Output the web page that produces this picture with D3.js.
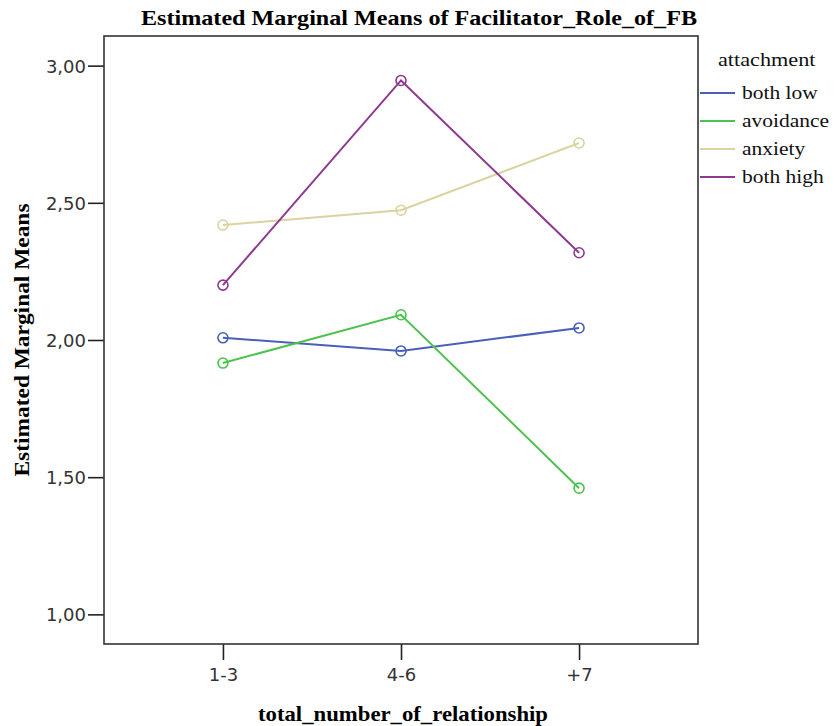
<!DOCTYPE html>
<html>
<head>
<meta charset="utf-8">
<script src="https://cdn.jsdelivr.net/npm/d3@7"></script>
<style>
  body { margin: 0; background: #fff; }
  svg { display: block; }
</style>
</head>
<body>
<div id="chart"></div>
<script>
// categories on the x axis
var categories = ['1-3', '4-6', '+7'];

// one series per attachment group
var seriesNames = ['both low', 'avoidance', 'anxiety', 'both high'];
var bothLow = [2.008, 1.960, 2.044];
var avoidance = [1.916, 2.092, 1.460];
var anxiety = [2.419, 2.473, 2.718];
var bothHigh = [2.200, 2.946, 2.318];

var yTicks = [1.00, 1.50, 2.00, 2.50, 3.00];
var colors = ['#4a5fb8', '#4cc24f', '#d9d4a0', '#8e3b8f'];

var series = [bothLow, avoidance, anxiety, bothHigh].map(function(vals, i) {
  return { name: seriesNames[i], values: vals, color: colors[i] };
});

var width = 837, height = 726;
var box = { left: 104, right: 698, top: 36, bottom: 644 };

var svg = d3.select('#chart').append('svg')
    .attr('width', width)
    .attr('height', height);

// stretch a text horizontally, the reference glyphs are wider than Times
function widen(sel, k) {
  sel.each(function() {
    var w = this.getComputedTextLength();
    d3.select(this)
      .attr('textLength', w * k)
      .attr('lengthAdjust', 'spacingAndGlyphs');
  });
}

var x = d3.scalePoint()
  .domain(categories)
  .range([box.left, box.right])
  .padding(0.668);

var y = d3.scaleLinear()
  .domain([0.892, 3.108])
  .range([box.bottom, box.top]);

var comma = d3.formatLocale({ decimal: ',', thousands: '.', grouping: [3], currency: ['', ''] });

var yAxis = d3.axisLeft(y)
  .tickValues(yTicks)
  .tickSize(16)
  .tickPadding(2)
  .tickFormat(comma.format('.2f'));

var xAxis = d3.axisBottom(x)
  .tickSize(16)
  .tickPadding(6);

var gy = svg.append('g')
    .attr('class', 'axis axis--y')
    .attr('transform', 'translate(' + box.left + ',0)')
    .call(yAxis);

var gx = svg.append('g')
    .attr('class', 'axis axis--x')
    .attr('transform', 'translate(0,' + box.bottom + ')')
    .call(xAxis);

svg.selectAll('.axis .domain').remove();
svg.selectAll('.axis .tick line')
    .attr('stroke', '#222')
    .attr('stroke-width', 1.6);
svg.selectAll('.axis text')
    .attr('font-family', '"DejaVu Sans", sans-serif')
    .attr('font-size', 18)
    .attr('fill', '#333');
gy.selectAll('text').attr('dy', '0.36em');
gx.selectAll('text').attr('dy', '0.85em');

// plot frame
svg.append('rect')
    .attr('x', box.left)
    .attr('y', box.top)
    .attr('width', box.right - box.left)
    .attr('height', box.bottom - box.top)
    .attr('fill', 'none')
    .attr('stroke', '#333')
    .attr('stroke-width', 1.6);

var line = d3.line()
  .x(function(d, i) { return x(categories[i]); })
  .y(function(d) { return y(d); });

var groups = svg.append('g')
    .attr('class', 'series')
  .selectAll('g')
    .data(series)
  .enter().append('g');

groups.append('path')
    .attr('fill', 'none')
    .attr('stroke', function(d) { return d.color; })
    .attr('stroke-width', 2)
    .attr('d', function(d) { return line(d.values); });

groups.selectAll('circle')
    .data(function(d) {
      return d.values.map(function(v, i) { return { v: v, c: categories[i], color: d.color }; });
    })
  .enter().append('circle')
    .attr('cx', function(d) { return x(d.c); })
    .attr('cy', function(d) { return y(d.v); })
    .attr('r', 5)
    .attr('fill', 'none')
    .attr('stroke', function(d) { return d.color; })
    .attr('stroke-width', 1.6);

// title
svg.append('text')
    .attr('x', 419)
    .attr('y', 25)
    .attr('text-anchor', 'middle')
    .attr('font-family', '"Liberation Serif", serif')
    .attr('font-weight', 'bold')
    .attr('font-size', 21)
    .attr('textLength', 556)
    .attr('lengthAdjust', 'spacingAndGlyphs')
    .text('Estimated Marginal Means of Facilitator_Role_of_FB');

// axis labels
svg.append('text')
    .attr('transform', 'translate(29,340) rotate(-90)')
    .attr('text-anchor', 'middle')
    .attr('font-family', '"Liberation Serif", serif')
    .attr('font-weight', 'bold')
    .attr('font-size', 21)
    .attr('textLength', 273)
    .attr('lengthAdjust', 'spacingAndGlyphs')
    .text('Estimated Marginal Means');

svg.append('text')
    .attr('x', (box.left + box.right) / 2 + 2)
    .attr('y', 721)
    .attr('text-anchor', 'middle')
    .attr('font-family', '"Liberation Serif", serif')
    .attr('font-weight', 'bold')
    .attr('font-size', 21)
    .attr('textLength', 290)
    .attr('lengthAdjust', 'spacingAndGlyphs')
    .text('total_number_of_relationship');

// legend
var legend = svg.append('g')
    .attr('class', 'legend')
    .attr('font-family', '"Liberation Serif", serif')
    .attr('font-size', 19)
    .attr('fill', '#111');

legend.append('text')
    .attr('x', 718)
    .attr('y', 66)
    .text('attachment')
    .call(widen, 1.17);

var rows = legend.selectAll('.legend__row')
    .data(series)
  .enter().append('g')
    .attr('class', 'legend__row')
    .attr('transform', function(d, i) { return 'translate(700,' + (93 + i * 28) + ')'; });

rows.append('line')
    .attr('x1', 0)
    .attr('x2', 35)
    .attr('stroke', function(d) { return d.color; })
    .attr('stroke-width', 2);

rows.append('text')
    .attr('x', 42)
    .attr('y', 6)
    .text(function(d) { return d.name; })
    .call(widen, 1.13);
</script>
</body>
</html>
